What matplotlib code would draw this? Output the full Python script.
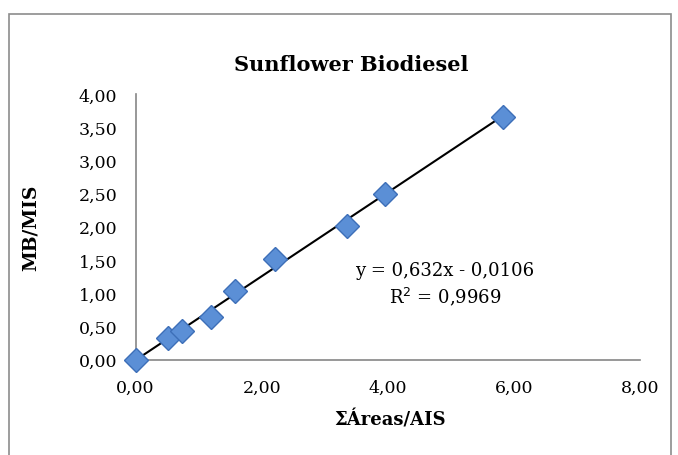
import numpy as np
import matplotlib
matplotlib.use("Agg")
import matplotlib.pyplot as plt
from matplotlib.patches import Rectangle

# data
area_ratio = [0.00, 0.52, 0.73, 1.20, 1.58, 2.21, 3.35, 3.96, 5.83]
mass_ratio = [0.00, 0.33, 0.43, 0.64, 1.03, 1.51, 2.01, 2.49, 3.66]
slope, intercept = 0.632, -0.0106
r2 = 0.9969
x_ticks = [0, 2, 4, 6, 8]
y_ticks = [0, 0.5, 1.0, 1.5, 2.0, 2.5, 3.0, 3.5, 4.0]

plt.rcParams["font.family"] = ["DejaVu Serif"]
W, H = 678, 456
fig = plt.figure(figsize=(W / 100, H / 100), dpi=100)
ax = fig.add_axes([135.5 / W, 1 - 360.5 / H, (640 - 135.5) / W, (360.5 - 95) / H])

# chart border
fig.patches.append(Rectangle((9 / W, -0.05), (671 - 9) / W, 1 - 15 / H + 0.05,
                             transform=fig.transFigure, fill=False,
                             edgecolor="#8c8c8c", lw=1.2))

xs = np.array([min(area_ratio), max(area_ratio)])
ax.plot(xs, slope * xs + intercept, color="black", lw=1.5, zorder=2)
ax.plot(area_ratio, mass_ratio, ls="none", marker="D", ms=12,
        mfc="#5b8fd6", mec="#3d6fb8", mew=1.0, zorder=3, clip_on=False)

ax.set_xlim(0, 8)
ax.set_ylim(0, 4)
ax.set_xticks(x_ticks)
ax.set_yticks(y_ticks)
ax.set_xticklabels([f"{v:.2f}".replace(".", ",") for v in x_ticks], fontsize=12.5)
ax.set_yticklabels([f"{v:.2f}".replace(".", ",") for v in y_ticks], fontsize=12.5)
ax.tick_params(axis="x", length=0, pad=14)
ax.tick_params(axis="y", length=0, pad=13)
for s in ["top", "right"]:
    ax.spines[s].set_visible(False)
for s in ["left", "bottom"]:
    ax.spines[s].set_color("#868686")
    ax.spines[s].set_linewidth(1.2)


def put(x, y, s, **kw):
    # pixel coords, origin at top-left of the figure
    fig.text(x / W, 1 - y / H, s, ha="center", va="center", **kw)


put(351, 65, "Sunflower Biodiesel", fontsize=15, fontweight="bold")
put(31, 228, "MB/MIS", rotation=90, fontsize=13.5, fontweight="bold")
put(390, 420, "ΣÁreas/AIS", fontsize=13, fontweight="bold")
put(445, 271, f"y = {slope:.3f}x - {abs(intercept):.4f}".replace(".", ","), fontsize=13)
put(445, 297, f"R$^2$ = {r2:.4f}".replace(".", ","), fontsize=13)

fig.savefig("out.png", dpi=100)
